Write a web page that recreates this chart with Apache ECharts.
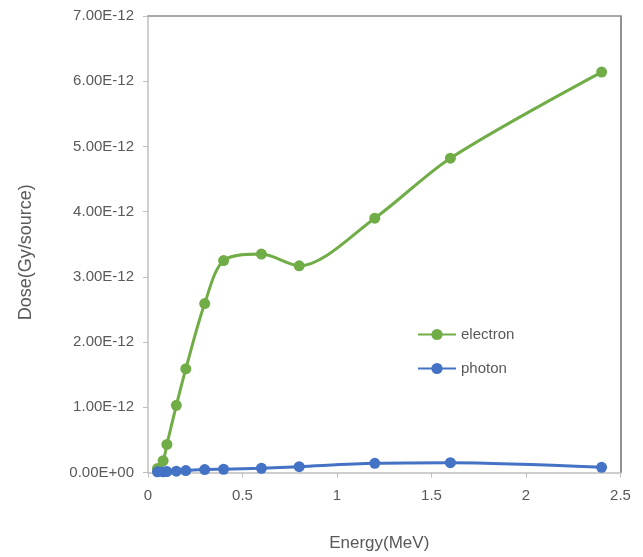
<!DOCTYPE html>
<html>
<head>
<meta charset="utf-8">
<script src="https://cdn.jsdelivr.net/npm/echarts@6/dist/echarts.min.js"></script>
<style>html,body{margin:0;padding:0;background:#fff}#c{width:643px;height:557px}</style>
</head>
<body>
<div id="c"></div>
<script>
var energies = [0.05, 0.08, 0.1, 0.15, 0.2, 0.3, 0.4, 0.6, 0.8, 1.2, 1.6, 2.4];
var electron = [0.06e-12, 0.18e-12, 0.43e-12, 1.03e-12, 1.59e-12, 2.59e-12, 3.25e-12, 3.35e-12, 3.17e-12, 3.90e-12, 4.82e-12, 6.14e-12];
var photon = [0.01e-12, 0.01e-12, 0.015e-12, 0.02e-12, 0.03e-12, 0.045e-12, 0.05e-12, 0.065e-12, 0.09e-12, 0.14e-12, 0.15e-12, 0.08e-12];
var seriesNames = ['electron', 'photon'];
var colors = ['#70AD47', '#4472C4'];

function fmtExp(v) {
  var s = Number(v).toExponential(2);
  var parts = s.split('e');
  var sign = parts[1].charAt(0);
  var digits = parts[1].slice(1);
  if (digits.length < 2) digits = '0' + digits;
  return parts[0] + 'E' + sign + digits;
}

var font = 'Liberation Sans';
var chart = echarts.init(document.getElementById('c'));
chart.setOption({
  animation: false,
  textStyle: { fontFamily: font },
  grid: { left: 148, right: 22.5, top: 16, bottom: 84.5, outerBoundsMode: 'none', containLabel: false },
  legend: {
    orient: 'vertical',
    left: 417, top: 327, padding: 0,
    itemWidth: 38, itemHeight: 14, itemGap: 19,
    data: seriesNames,
    textStyle: { color: '#595959', fontSize: 15, fontFamily: font }
  },
  xAxis: [{
    type: 'value', min: 0, max: 2.5, interval: 0.5,
    name: 'Energy(MeV)', nameLocation: 'middle', nameGap: 62,
    nameTextStyle: { color: '#595959', fontSize: 17, fontFamily: font, padding: [0, 10, 0, 0] },
    axisLine: { lineStyle: { color: '#BFBFBF', width: 1.5 } },
    axisTick: { show: true, inside: false, length: 5, lineStyle: { color: '#BFBFBF' } },
    axisLabel: { color: '#595959', fontSize: 15, margin: 16, fontFamily: font },
    splitLine: { show: false }
  }, {
    type: 'value', position: 'top', min: 0, max: 2.5,
    axisLine: { show: true, onZero: false, lineStyle: { color: '#8C8C8C', width: 1.5 } },
    axisTick: { show: false }, axisLabel: { show: false }, splitLine: { show: false }
  }],
  yAxis: [{
    type: 'value', min: 0, max: 7e-12, interval: 1e-12,
    name: 'Dose(Gy/source)', nameLocation: 'middle', nameGap: 113,
    nameTextStyle: { color: '#595959', fontSize: 18, fontFamily: font, padding: [0, 16, 0, 0] },
    axisLine: { show: true, lineStyle: { color: '#BFBFBF', width: 1.5 } },
    axisTick: { show: true, inside: false, length: 5, lineStyle: { color: '#BFBFBF' } },
    axisLabel: { color: '#595959', fontSize: 15, margin: 14, formatter: fmtExp, fontFamily: font },
    splitLine: { show: false }
  }, {
    type: 'value', position: 'right', min: 0, max: 7e-12,
    axisLine: { show: true, onZero: false, lineStyle: { color: '#6E6E6E', width: 1.5 } },
    axisTick: { show: false }, axisLabel: { show: false }, splitLine: { show: false }
  }],
  series: [
    {
      name: seriesNames[0], type: 'line', smooth: 0.3,
      data: energies.map(function (e, i) { return [e, electron[i]]; }),
      symbol: 'circle', symbolSize: 11,
      lineStyle: { color: colors[0], width: 3 },
      itemStyle: { color: colors[0] }
    },
    {
      name: seriesNames[1], type: 'line', smooth: 0.3,
      data: energies.map(function (e, i) { return [e, photon[i]]; }),
      symbol: 'circle', symbolSize: 11,
      lineStyle: { color: colors[1], width: 3 },
      itemStyle: { color: colors[1] }
    }
  ]
});
</script>
</body>
</html>
